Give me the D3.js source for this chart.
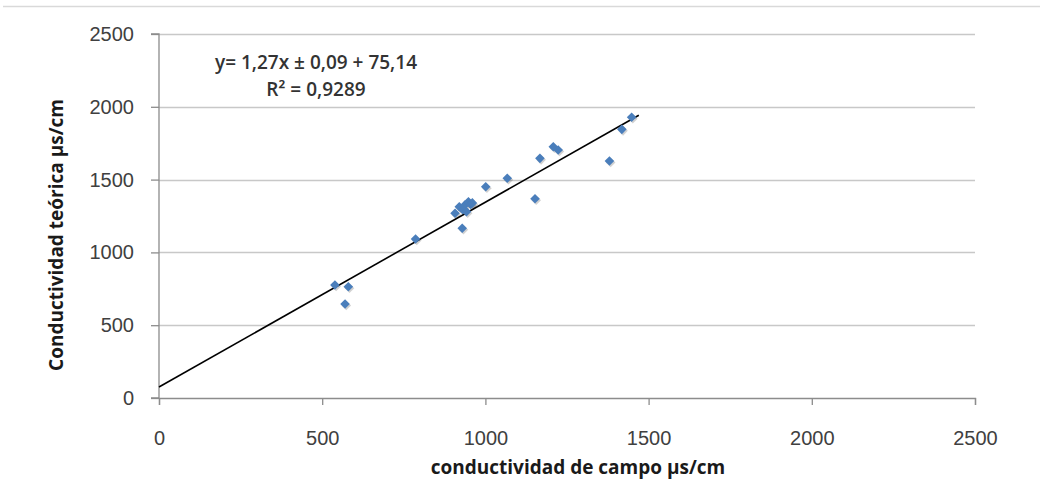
<!DOCTYPE html>
<html>
<head>
<meta charset="utf-8">
<script src="https://cdn.jsdelivr.net/npm/d3@7"></script>
<style>
  body { margin: 0; background: #fff; }
  svg { font-family: "Open Sans", "Noto Sans", sans-serif; }
</style>
</head>
<body>
<svg id="chart" width="1040" height="484"></svg>
<script>
// values
const campo = [539, 580, 570, 786, 929, 907, 920, 937, 948, 930, 955, 942, 960, 1001, 1067, 1152, 1167, 1208, 1223, 1380, 1418, 1448];
const teorica = [776, 764, 646, 1092, 1166, 1269, 1314, 1326, 1348, 1295, 1330, 1280, 1340, 1451, 1509, 1369, 1646, 1726, 1703, 1628, 1845, 1928];
const xTicks = [0, 500, 1000, 1500, 2000, 2500];
const yTicks = [0, 500, 1000, 1500, 2000, 2500];
const slope = 1.27, intercept = 75.14;
const trendRange = [0, 1470];
const eqLines = ['y= 1,27x ± 0,09 + 75,14', 'R² = 0,9289'];

const svg = d3.select('#chart');
const x = d3.scaleLinear().domain([0, 2500]).range([159, 975]);
const y = d3.scaleLinear().domain([0, 2500]).range([398, 34]);

// outer frame top edge
svg.append('line').attr('x1', 3).attr('x2', 1040).attr('y1', 6.5).attr('y2', 6.5)
  .attr('stroke', '#d9d9d9').attr('stroke-width', 1.5);

// gridlines
svg.append('g').selectAll('line').data(yTicks.slice(1)).join('line')
  .attr('x1', x(0)).attr('x2', x(2500))
  .attr('y1', d => Math.round(y(d)) + 0.5).attr('y2', d => Math.round(y(d)) + 0.5)
  .attr('stroke', '#c8c8c8').attr('stroke-width', 1.5);

// axes
const yAxis = svg.append('g').attr('transform', `translate(${x(0)},0)`)
  .call(d3.axisLeft(y).tickValues(yTicks).tickSize(8).tickPadding(17).tickFormat(d3.format('d')));
const xAxis = svg.append('g').attr('transform', `translate(0,${y(0)})`)
  .call(d3.axisBottom(x).tickValues(xTicks).tickSize(7).tickPadding(26).tickFormat(d3.format('d')));
[xAxis, yAxis].forEach(a => {
  a.select('.domain').attr('stroke', '#8c8c8c').attr('stroke-width', 1.3);
  a.selectAll('.tick line').attr('stroke', '#8c8c8c').attr('stroke-width', 1.3);
  a.selectAll('.tick text').attr('fill', '#404040').style('font-size', '20px');
});
yAxis.select('.domain').attr('d', `M-8,${y(2500)}H0V${y(0)}H-8`);

// trendline
svg.append('line')
  .attr('x1', x(trendRange[0])).attr('y1', y(slope * trendRange[0] + intercept))
  .attr('x2', x(trendRange[1])).attr('y2', y(slope * trendRange[1] + intercept))
  .attr('stroke', '#000').attr('stroke-width', 1.6);

// points
const diamond = d3.symbol().type(d3.symbolSquare).size(46);
const pts = svg.append('g');
pts.selectAll('path.sh').data(campo).join('path').attr('class', 'sh')
  .attr('d', diamond)
  .attr('transform', (d, i) => `translate(${x(d) + 1.2},${y(teorica[i]) + 1.5}) rotate(45)`)
  .attr('fill', '#000').attr('opacity', 0.18);
pts.selectAll('path.pt').data(campo).join('path').attr('class', 'pt')
  .attr('d', diamond)
  .attr('transform', (d, i) => `translate(${x(d)},${y(teorica[i])}) rotate(45)`)
  .attr('fill', '#4a7ebb');

// equation label
svg.append('g').selectAll('text').data(eqLines).join('text')
  .attr('x', 316).attr('y', (d, i) => 69 + i * 27)
  .attr('text-anchor', 'middle')
  .attr('fill', '#333').style('font-size', '19px').style('font-weight', 600)
  .text(d => d);

// axis titles
svg.append('text')
  .attr('x', 578).attr('y', 474)
  .attr('text-anchor', 'middle')
  .attr('fill', '#1a1a1a').style('font-size', '19px').style('font-weight', 'bold')
  .text('conductividad de campo µs/cm');
svg.append('text')
  .attr('transform', 'translate(63,235) rotate(-90)')
  .attr('text-anchor', 'middle')
  .attr('fill', '#1a1a1a').style('font-size', '19px').style('font-weight', 'bold')
  .text('Conductividad teórica µs/cm');
</script>
</body>
</html>
